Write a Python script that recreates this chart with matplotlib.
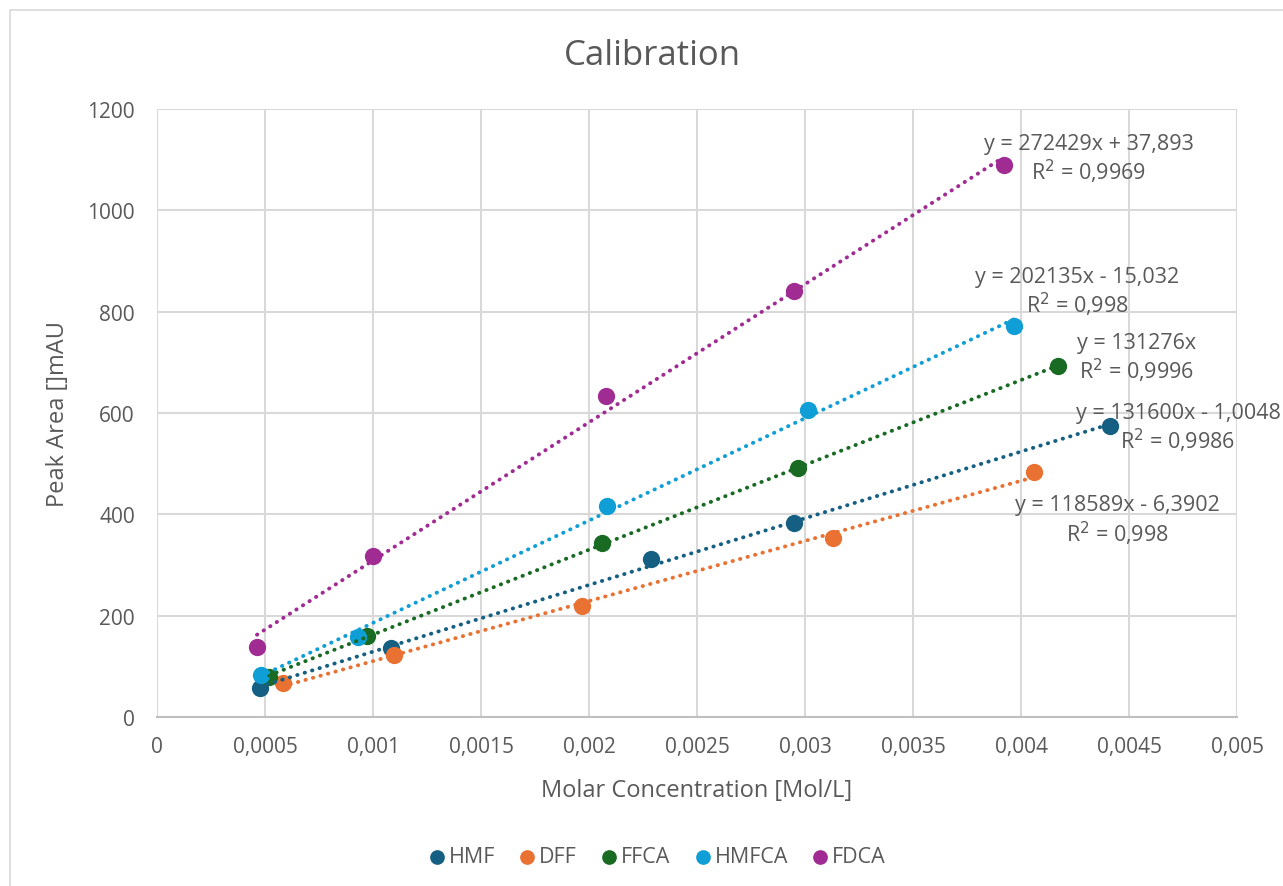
import numpy as np
import matplotlib.pyplot as plt
from matplotlib.patches import Rectangle

series = ["HMF", "DFF", "FFCA", "HMFCA", "FDCA"]
colors = ["#156082", "#E97132", "#196B24", "#0F9ED5", "#A02B93"]

hmf_x = [0.000477, 0.001083, 0.002287, 0.002949, 0.004412]
hmf_y = [57, 136, 312, 383, 574]
dff_x = [0.000583, 0.001097, 0.001968, 0.003130, 0.004060]
dff_y = [67, 122, 219, 353, 483]
ffca_x = [0.000519, 0.000972, 0.002060, 0.002968, 0.004171]
ffca_y = [79, 160, 343, 491, 693]
hmfca_x = [0.000481, 0.000931, 0.002083, 0.003014, 0.003968]
hmfca_y = [83, 158, 416, 606, 772]
fdca_x = [0.000463, 0.001000, 0.002079, 0.002949, 0.003921]
fdca_y = [138, 318, 634, 841, 1089]

# Beschriftung der Trendlinien (so wie im Excel-Diagramm)
eq_labels = ["y = 131600x - 1,0048", "y = 118589x - 6,3902", "y = 131276x",
             "y = 202135x - 15,032", "y = 272429x + 37,893"]
r2_labels = ["0,9986", "0,998", "0,9996", "0,998", "0,9969"]

x_ticks = [0, 0.0005, 0.001, 0.0015, 0.002, 0.0025, 0.003, 0.0035, 0.004, 0.0045, 0.005]
x_ticklabels = ["0", "0,0005", "0,001", "0,0015", "0,002", "0,0025", "0,003",
                "0,0035", "0,004", "0,0045", "0,005"]
y_ticks = [0, 200, 400, 600, 800, 1000, 1200]

# Position der Gleichungen (Pixel im Bild: Mitte x, y der ersten Zeile)
label_pos = [(1178, 413), (1117, 506), (1137, 343), (1077, 277), (1089, 144)]

plt.rcParams["font.family"] = ["Open Sans", "DejaVu Sans"]
txt = "#595959"
grid = "#D9D9D9"

W, H = 1283, 887
fig = plt.figure(figsize=(W / 100, H / 100), dpi=100)
fig.patches.append(Rectangle((10 / W, -0.1), 1.2, 1 - 11 / H + 0.1, transform=fig.transFigure,
                             fill=False, edgecolor=grid, linewidth=1.2))

L, R, T, B = 157, 1237, 110, 718
ax = fig.add_axes([L / W, 1 - B / H, (R - L) / W, (B - T) / H])

xs = [hmf_x, dff_x, ffca_x, hmfca_x, fdca_x]
ys = [hmf_y, dff_y, ffca_y, hmfca_y, fdca_y]

for name, c, x, y in zip(series, colors, xs, ys):
    ax.scatter(x, y, s=155, color=c, zorder=3, label=name, linewidths=0)
    m, b = np.polyfit(x, y, 1)
    xx = np.array([min(x), max(x)])
    ax.plot(xx, m * xx + b, color=c, linewidth=2.8, linestyle=(0, (0.1, 1.9)),
            dash_capstyle="round", zorder=4)

def px2data(px, py):
    return (px - L) / (R - L) * 0.005, (B - py) / (B - T) * 1200

for (px, py), eq, r2 in zip(label_pos, eq_labels, r2_labels):
    x1, y1 = px2data(px, py)
    x2, y2 = px2data(px, py + 28)
    ax.text(x1, y1, eq, ha="center", va="center", fontsize=15.5, color=txt, zorder=5)
    ax.text(x2, y2, "R$^2$ = " + r2, ha="center", va="center", fontsize=15.5, color=txt, zorder=5)

ax.set_xlim(0, 0.005)
ax.set_ylim(0, 1200)
ax.set_xticks(x_ticks)
ax.set_xticklabels(x_ticklabels)
ax.set_yticks(y_ticks)
ax.tick_params(length=0, labelsize=15, colors=txt, pad=14)
ax.tick_params(axis="y", pad=16)
ax.grid(True, color=grid, linewidth=1.5, zorder=0)
ax.set_axisbelow(True)
for s in ["top", "right", "left"]:
    ax.spines[s].set_visible(False)
ax.spines["bottom"].set_color("#BFBFBF")
ax.spines["bottom"].set_linewidth(1.5)

ax.set_xlabel("Molar Concentration [Mol/L]", fontsize=17, color=txt, labelpad=15)
ax.set_ylabel("Peak Area []mAU", fontsize=17, color=txt, labelpad=12)
fig.text(652 / W, 1 - 56 / H, "Calibration", ha="center", va="center", fontsize=25, color=txt)

fig.legend(loc="center", bbox_to_anchor=(657 / W, 1 - 858 / H), ncol=5, frameon=False,
           fontsize=15.5, labelcolor=txt, handlelength=0.8, handletextpad=0.15,
           columnspacing=1.1, markerscale=0.85)

fig.savefig("out.png", dpi=100)
